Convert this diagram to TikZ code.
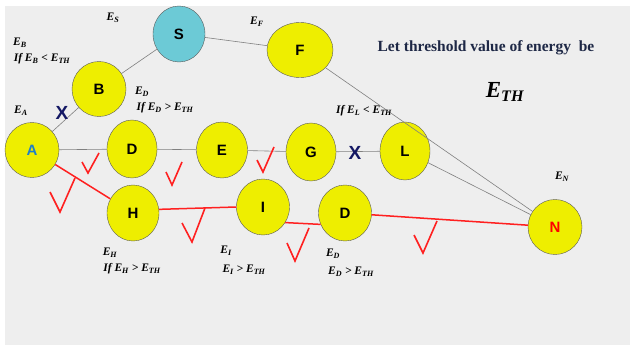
\documentclass[tikz,border=0pt]{standalone}
\usepackage{fontspec}
\setmainfont{Liberation Serif}
\setsansfont{Liberation Sans}
\usepackage{tikz}
\usetikzlibrary{shapes.geometric}

\definecolor{nodeyellow}{RGB}{238,238,0}
\definecolor{sinkcyan}{RGB}{108,202,214}
\definecolor{bggrey}{RGB}{238,238,238}
\definecolor{linkgrey}{RGB}{128,128,128}
\definecolor{pathred}{RGB}{255,32,32}
\definecolor{navy}{RGB}{20,24,100}
\definecolor{textnavy}{RGB}{30,40,70}
\definecolor{letterblue}{RGB}{30,127,200}

\newcommand{\En}[1]{\textit{E}\textsubscript{\textit{#1}}}

\begin{document}
\begin{tikzpicture}[
    x=1pt, y=-1pt,
    sensor/.style={ellipse, draw=black!65, fill=nodeyellow, minimum width=52pt, minimum height=56pt, inner sep=0pt, font=\sffamily\bfseries\fontsize{15}{15}\selectfont},
    link/.style={draw=linkgrey, line width=0.6pt},
    route/.style={draw=pathred, line width=1.5pt},
    tick/.style={draw=pathred, line width=1.6pt},
    cross/.style={text=navy, font=\sffamily\bfseries\fontsize{19}{19}\selectfont, inner sep=0pt},
    lbl/.style={font=\bfseries\itshape\fontsize{11.5}{13}\selectfont, inner sep=0pt},
]

% background
\fill[white] (0,0) rectangle (630,345);
\fill[bggrey] (5,6) rectangle (630,345);

% Nodes
\node[sensor, fill=sinkcyan] (S) at (179,34) {S};
\node[sensor, minimum width=66pt, minimum height=55pt] (F) at (300,50) {F};
\node[sensor, minimum width=54pt, minimum height=55pt] (B) at (99,89) {B};
\node[sensor, minimum width=54pt, minimum height=55pt, text=letterblue] (A) at (32,150) {A};
\node[sensor, minimum width=50pt, minimum height=58pt] (D) at (132,149) {D};
\node[sensor, minimum width=51pt, minimum height=56pt] (E) at (222,150) {E};
\node[sensor, minimum width=50pt, minimum height=58pt] (G) at (311,152) {G};
\node[sensor, minimum width=50pt, minimum height=58pt] (L) at (405,151) {L};
\node[sensor, minimum width=52pt, minimum height=56pt] (H) at (133,213) {H};
\node[sensor, minimum width=53pt, minimum height=56pt] (I) at (263,207) {I};
\node[sensor, minimum width=53pt, minimum height=56pt] (D2) at (345,213) {D};
\node[sensor, minimum width=54pt, minimum height=55pt, text=red] (N) at (555,227) {N};

% Links
\draw[link] (S) -- (B);
\draw[link] (S) -- (F);
\draw[link] (F) -- (N);
\draw[link] (L) -- (N);
\draw[link] (A) -- (B);
\draw[link] (A) -- (D);
\draw[link] (D) -- (E);
\draw[link] (E) -- (G);
\draw[link] (G) -- (L);

% Route
\draw[route] (A) -- (H);
\draw[route] (H.8) -- (I.west);
\draw[route] (I.-35) -- (D2.-155);
\draw[route] (D2) -- (N);

% Blocked links
\node[cross] (xab) at (62,113) {X};
\node[cross] (xgl) at (355,153) {X};

% Ticks
\foreach \ax/\ay/\bx/\by/\cx/\cy in {50/192/60/212/75/178, 82/162/88/173/99/153,
    166/172/172/185/182/162, 257/160/263/172/274/147, 182/223/192/242/205/208,
    287/243/295/261/309/228, 414/235/423/253/437/221}
  \draw[tick] (\ax,\ay) -- (\bx,\by) -- (\cx,\cy);

% Labels
\node[lbl] (eS) at (113,18) {\En{S}};
\node[lbl] (eF) at (257,22) {\En{F}};
\node[lbl] (eB) at (20,43) {\En{B}};
\node[lbl] (ifB) at (42,59) {If \En{B} < \En{TH}};
\node[lbl] (eD) at (142,92) {\En{D}};
\node[lbl] (ifD) at (165,108) {If \En{D} > \En{TH}};
\node[lbl] (eA) at (21,111) {\En{A}};
\node[lbl] (ifL) at (364,111) {If \En{L} < \En{TH}};
\node[lbl] (eN) at (562,177) {\En{N}};
\node[lbl] (eH) at (110,253) {\En{H}};
\node[lbl] (ifH) at (132,269) {If \En{H} > \En{TH}};
\node[lbl] (eI) at (226,251) {\En{I}};
\node[lbl] (gtI) at (244,270) {\En{I} > \En{TH}};
\node[lbl] (eD2) at (333,254) {\En{D}};
\node[lbl] (gtD) at (351,272) {\En{D} > \En{TH}};

% Threshold note
\node[text=textnavy, font=\bfseries\fontsize{15.5}{17}\selectfont, inner sep=0pt] (note) at (486,48) {Let threshold value of energy\ \ be};
\node[font=\bfseries\itshape\fontsize{23}{25}\selectfont, inner sep=0pt] (eth) at (505,92) {\En{TH}};

\end{tikzpicture}
\end{document}
